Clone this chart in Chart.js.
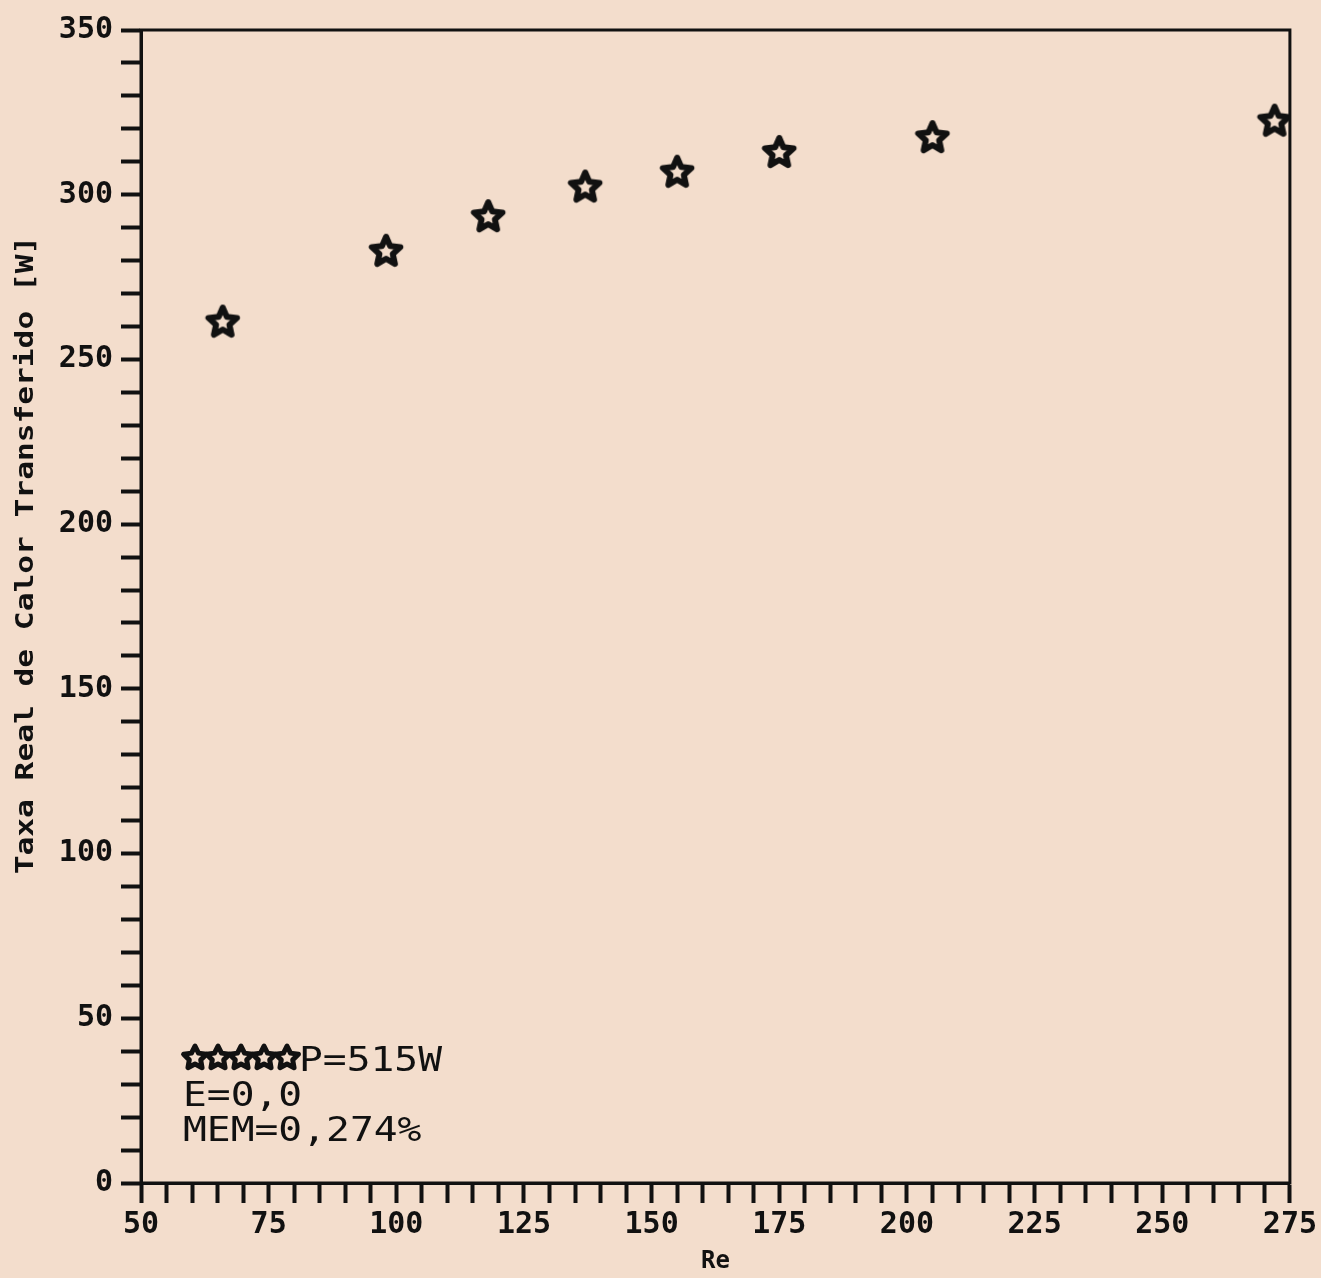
<!DOCTYPE html>
<html>
<head>
<meta charset="utf-8">
<script src="https://cdn.jsdelivr.net/npm/chart.js@4"></script>
<style>
  html, body { margin: 0; padding: 0; background: #f3ddcc; }
  #wrap { width: 1321px; height: 1278px; }
</style>
</head>
<body>
<div id="wrap"><canvas id="chart" width="1321" height="1278"></canvas></div>
<script>
// Data
const reValues = [66, 98, 118, 137, 155, 175, 205, 272];
const heatValues = [261.5, 283, 293.5, 302.5, 307, 313, 317.5, 322.5];
const legendLines = ['P=515W', 'E=0,0', 'MEM=0,274%'];
const xTitle = 'Re';
const yTitle = 'Taxa Real de Calor Transferido [W]';

const BG = '#f3ddcc';

// hollow five point star used as the marker
function makeStar(size, outer, inner, lw) {
  const c = document.createElement('canvas');
  c.width = size; c.height = size;
  const g = c.getContext('2d');
  g.translate(size / 2, size / 2 + 1);
  g.beginPath();
  for (let i = 0; i < 10; i++) {
    const r = i % 2 === 0 ? outer : inner;
    const a = -Math.PI / 2 + i * Math.PI / 5;
    g.lineTo(r * Math.cos(a), r * Math.sin(a));
  }
  g.closePath();
  g.fillStyle = BG;
  g.fill();
  g.lineJoin = 'round';
  g.lineWidth = lw;
  g.strokeStyle = '#111';
  g.stroke();
  return c;
}
const starImg = makeStar(40, 15, 7, 6);
const legendStar = makeStar(32, 12, 6, 5);

const framePlugin = {
  id: 'frame',
  beforeDraw(chart) {
    const ctx = chart.ctx;
    ctx.save();
    ctx.fillStyle = BG;
    ctx.fillRect(0, 0, chart.width, chart.height);
    ctx.restore();
  },
  afterDraw(chart) {
    const ctx = chart.ctx;
    const a = chart.chartArea;
    ctx.save();
    ctx.strokeStyle = '#111';
    ctx.lineWidth = 3;
    ctx.strokeRect(a.left, a.top, a.right - a.left, a.bottom - a.top);

    // legend block
    const lx = a.left + 40;
    for (let i = 0; i < 5; i++) {
      ctx.drawImage(legendStar, lx + i * 23 - 2, a.bottom - 142);
    }
    ctx.fillStyle = '#111';
    ctx.font = '33px "DejaVu Sans Mono"';
    ctx.textBaseline = 'alphabetic';
    const rows = [[lx + 118, a.bottom - 112], [lx + 2, a.bottom - 77], [lx + 2, a.bottom - 42]];
    legendLines.forEach((t, i) => {
      ctx.save();
      ctx.translate(rows[i][0], rows[i][1]);
      ctx.scale(1.2, 1);
      ctx.fillText(t, 0, 0);
      ctx.restore();
    });

    // y axis title
    ctx.save();
    ctx.translate(27, 555);
    ctx.rotate(-Math.PI / 2);
    ctx.scale(1.3, 1);
    ctx.font = 'bold 24px "DejaVu Sans Mono"';
    ctx.textAlign = 'center';
    ctx.textBaseline = 'middle';
    ctx.fillText(yTitle, 0, 0);
    ctx.restore();

    ctx.restore();
  }
};

new Chart(document.getElementById('chart'), {
  type: 'scatter',
  data: {
    datasets: [{
      data: reValues.map((x, i) => ({ x: x, y: heatValues[i] })),
      pointStyle: starImg,
      pointRadius: 16,
      pointHoverRadius: 16
    }]
  },
  options: {
    responsive: false,
    animation: false,
    layout: { padding: { top: 30, right: 25, left: 0, bottom: 0 } },
    plugins: { legend: { display: false }, tooltip: { enabled: false } },
    scales: {
      x: {
        type: 'linear',
        min: 50, max: 275,
        afterFit: s => { s.height = 95; },
        border: { color: '#111', width: 3 },
        grid: { drawOnChartArea: false, drawTicks: true, tickLength: 20, tickColor: '#111', tickWidth: 4 },
        ticks: {
          stepSize: 5, autoSkip: false, maxRotation: 0, padding: 4,
          color: '#111',
          font: { family: '"DejaVu Sans Mono"', size: 30, weight: 'bold' },
          callback: v => (v % 25 === 0 ? String(v) : '')
        },
        title: {
          display: true, text: xTitle, color: '#111', padding: { top: 0, bottom: 2 },
          font: { family: '"DejaVu Sans Mono"', size: 24, weight: 'bold' }
        }
      },
      y: {
        min: 0, max: 350,
        afterFit: s => { s.width = 141; },
        border: { color: '#111', width: 3 },
        grid: { drawOnChartArea: false, drawTicks: true, tickLength: 20, tickColor: '#111', tickWidth: 4 },
        ticks: {
          stepSize: 10, autoSkip: false, padding: 8,
          color: '#111',
          font: { family: '"DejaVu Sans Mono"', size: 30, weight: 'bold' },
          callback: v => (v % 50 === 0 ? String(v) : '')
        }
      }
    }
  },
  plugins: [framePlugin]
});
</script>
</body>
</html>
